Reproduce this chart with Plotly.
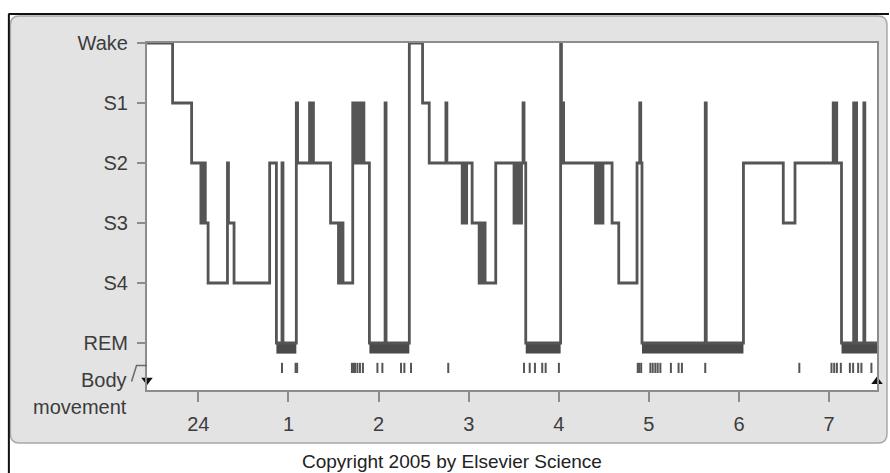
import plotly.graph_objects as go

# ---------------- data ----------------
stage_labels = ["REM", "S4", "S3", "S2", "S1", "Wake"]
stage_values = [0, 1, 2, 3, 4, 5]
hour_ticks = [0, 1, 2, 3, 4, 5, 6, 7]
hour_labels = ["24", "1", "2", "3", "4", "5", "6", "7"]

# hypnogram: time (hours after midnight) at which each stage begins
hyp_time = [-0.570, -0.286, -0.075, 0.028, 0.041, 0.054, 0.068, 0.077, 0.108,
            0.323, 0.334, 0.396, 0.791, 0.866, 0.928, 0.939, 1.087, 1.101,
            1.234, 1.248, 1.263, 1.277, 1.467, 1.555, 1.570, 1.584, 1.598,
            1.605, 1.713, 1.738, 1.754, 1.771, 1.788, 1.804, 1.821, 1.837,
            1.898, 2.072, 2.083, 2.341, 2.488, 2.562, 2.747, 2.758, 2.928,
            2.944, 2.961, 2.977, 3.038, 3.116, 3.132, 3.149, 3.165, 3.182,
            3.300, 3.503, 3.520, 3.536, 3.553, 3.569, 3.586, 3.603, 3.614,
            3.633, 4.020, 4.029, 4.037, 4.045, 4.053, 4.407, 4.424, 4.440,
            4.457, 4.474, 4.490, 4.591, 4.665, 4.868, 4.898, 4.909, 4.923,
            5.625, 5.636, 6.049, 6.491, 6.621, 7.045, 7.062, 7.073, 7.084,
            7.137, 7.272, 7.283, 7.294, 7.305, 7.385, 7.396]
hyp_stage = [5, 4, 3, 2, 3, 2, 3, 2, 1,
             3, 2, 1, 3, 0, 3, 0, 4, 3,
             4, 3, 4, 3, 2, 1, 2, 1, 2,
             1, 4, 3, 4, 3, 4, 3, 4, 3,
             0, 4, 0, 5, 4, 3, 4, 3, 2,
             3, 2, 3, 2, 1, 2, 1, 2, 1,
             3, 2, 3, 2, 3, 2, 3, 4, 3,
             0, 5, 4, 3, 4, 3, 2, 3, 2,
             3, 2, 3, 2, 1, 3, 4, 3, 0,
             4, 0, 3, 2, 3, 4, 3, 4, 3,
             0, 4, 0, 4, 0, 4, 0]
end_time = 7.531

# body movements (hours after midnight)
body_move_time = [0.928, 1.079, 1.096, 1.704, 1.721, 1.738, 1.765, 1.793, 1.826,
                  1.987, 2.042, 2.249, 2.286, 2.360, 2.773, 3.614, 3.677, 3.735,
                  3.816, 3.854, 4.001, 4.876, 4.892, 4.914, 5.016, 5.042, 5.071,
                  5.097, 5.127, 5.244, 5.329, 5.366, 5.625, 6.669, 7.026, 7.056,
                  7.086, 7.130, 7.230, 7.266, 7.322, 7.358, 7.469]

# ---------------- layout geometry (pixels) ----------------
W, H = 890, 473
L, R, T, B = 147, 879, 43, 390
X_RANGE = [hyp_time[0], end_time]
Y_RANGE = [-0.783, 5.0]

def px(x):
    return (x - L) / (R - L)

def py(y):
    return (B - y) / (B - T)

def rounded_rect(x0, y0, x1, y1, r):
    return (f"M {px(x0 + r)} {py(y0)} L {px(x1 - r)} {py(y0)} "
            f"Q {px(x1)} {py(y0)} {px(x1)} {py(y0 + r)} "
            f"L {px(x1)} {py(y1 - r)} Q {px(x1)} {py(y1)} {px(x1 - r)} {py(y1)} "
            f"L {px(x0 + r)} {py(y1)} Q {px(x0)} {py(y1)} {px(x0)} {py(y1 - r)} "
            f"L {px(x0)} {py(y0 + r)} Q {px(x0)} {py(y0)} {px(x0 + r)} {py(y0)} Z")

LINE = "#555555"
TEXT = "#3c3c3c"
AXIS = "#8c8c8c"
FONT = "Liberation Sans, Arial, sans-serif"

fig = go.Figure()

# REM thick bars (derived from the hypnogram)
rem_x, rem_y = [], []
seg_start = None
times = hyp_time + [end_time]
for i, s in enumerate(hyp_stage):
    t0, t1 = times[i], times[i + 1]
    if s == 0:
        if seg_start is None:
            seg_start = t0
        seg_end = t1
    else:
        if seg_start is not None and (t1 - t0) > 0.02:
            rem_x += [seg_start, seg_end, None]
            rem_y += [-0.085, -0.085, None]
            seg_start = None
if seg_start is not None:
    rem_x += [seg_start, seg_end, None]
    rem_y += [-0.085, -0.085, None]

fig.add_trace(go.Scatter(x=rem_x, y=rem_y, mode="lines",
                         line=dict(color="#4a4a4a", width=11),
                         hoverinfo="skip", showlegend=False))

# hypnogram
fig.add_trace(go.Scatter(x=hyp_time + [end_time], y=hyp_stage + [hyp_stage[-1]],
                         mode="lines", line=dict(color=LINE, width=2.8, shape="hv"),
                         showlegend=False))

# body movement ticks
bx, by = [], []
for t in body_move_time:
    bx += [t, t, None]
    by += [-0.33, -0.5, None]
fig.add_trace(go.Scatter(x=bx, y=by, mode="lines",
                         line=dict(color="#555555", width=2),
                         hoverinfo="skip", showlegend=False))

# start / end markers
fig.add_trace(go.Scatter(x=[X_RANGE[0]], y=[-0.62], mode="markers",
                         marker=dict(symbol="triangle-down", size=10, color="#111111"),
                         cliponaxis=False, hoverinfo="skip", showlegend=False))
fig.add_trace(go.Scatter(x=[X_RANGE[1]], y=[-0.64], mode="markers",
                         marker=dict(symbol="triangle-up", size=10, color="#111111"),
                         cliponaxis=False, hoverinfo="skip", showlegend=False))

shapes = [
    # gray panel
    dict(type="path", xref="paper", yref="paper", layer="below",
         path=rounded_rect(10, 16, 889, 443, 9),
         fillcolor="#e3e3e3", line=dict(color="#a8a8a8", width=1.5)),
    # white plot area
    dict(type="rect", xref="paper", yref="paper", layer="below",
         x0=0, y0=0, x1=1, y1=1, fillcolor="white", line=dict(width=0)),
    # outer black frame lines
    dict(type="line", xref="paper", yref="paper", layer="above",
         x0=px(8), y0=py(14), x1=px(891), y1=py(14),
         line=dict(color="#111111", width=2)),
    dict(type="line", xref="paper", yref="paper", layer="above",
         x0=px(8.5), y0=py(14), x1=px(8.5), y1=py(474),
         line=dict(color="#111111", width=2)),
    # bracket next to "Body"
    dict(type="path", xref="paper", yref="paper", layer="above",
         path=f"M {px(131.5)} {py(381.5)} L {px(136.5)} {py(365.5)} L {px(147)} {py(365.5)}",
         line=dict(color="#6a6a6a", width=1.5)),
]

annotations = [
    dict(text="Body", x=px(129), y=py(380), xref="paper", yref="paper",
         xanchor="right", yanchor="middle", showarrow=False,
         font=dict(family=FONT, size=20, color=TEXT)),
    dict(text="movement", x=px(129), y=py(407), xref="paper", yref="paper",
         xanchor="right", yanchor="middle", showarrow=False,
         font=dict(family=FONT, size=20, color=TEXT)),
    dict(text="Copyright 2005 by Elsevier Science", x=px(453), y=py(461),
         xref="paper", yref="paper", xanchor="center", yanchor="middle",
         showarrow=False, font=dict(family=FONT, size=19, color="#222222")),
]

fig.update_layout(
    width=W, height=H,
    margin=dict(l=L, r=W - R, t=T, b=H - B, pad=0),
    paper_bgcolor="white", plot_bgcolor="rgba(0,0,0,0)",
    shapes=shapes, annotations=annotations,
    font=dict(family=FONT, size=20, color=TEXT),
    xaxis=dict(range=X_RANGE, tickvals=hour_ticks, ticktext=hour_labels,
               showgrid=False, zeroline=False, showline=True, mirror=True,
               linecolor=AXIS, linewidth=2, ticks="outside", ticklen=10,
               tickwidth=2, tickcolor=AXIS, ticklabelstandoff=5,
               tickfont=dict(family=FONT, size=20, color=TEXT)),
    yaxis=dict(range=Y_RANGE, tickvals=stage_values, ticktext=stage_labels,
               showgrid=False, zeroline=False, showline=True, mirror=True,
               linecolor=AXIS, linewidth=2, ticks="outside", ticklen=8,
               tickwidth=2, tickcolor=AXIS, ticklabelstandoff=5,
               tickfont=dict(family=FONT, size=20, color=TEXT)),
    hovermode=False,
)

fig.write_html("out.html", config={"displayModeBar": False},
               post_script="document.body.style.margin='0';document.body.style.overflow='hidden';")
